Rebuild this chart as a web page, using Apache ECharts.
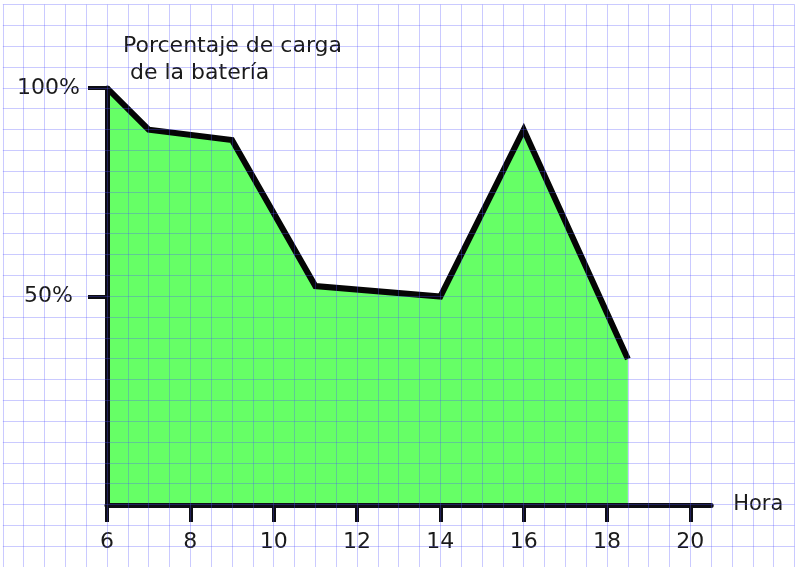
<!DOCTYPE html>
<html>
<head>
<meta charset="utf-8">
<script src="https://cdn.jsdelivr.net/npm/echarts@6/dist/echarts.min.js"></script>
<style>
html,body{margin:0;padding:0;background:#fff;}
#chart{width:804px;height:567px;}
</style>
</head>
<body>
<div id="chart"></div>
<script>
var hours = [6, 7, 9, 11, 14, 16, 18.5];
var charge = [100, 90, 87.5, 52.5, 50, 90, 35];
var xTicks = [6, 8, 10, 12, 14, 16, 18, 20];
var yTicks = [50, 100];
var titleText = 'Porcentaje de carga\n de la batería';
var xName = 'Hora';

var FONT = '"DejaVu Sans", Verdana, sans-serif';
var GRIDLINE = 'rgba(80,80,255,0.3)';
var chart = echarts.init(document.getElementById('chart'), null, {renderer: 'canvas'});
var points = hours.map(function (h, i) { return [h, charge[i]]; });

chart.setOption({
  animation: false,
  backgroundColor: '#ffffff',
  title: {
    text: titleText,
    left: 118,
    top: 28,
    textStyle: {fontFamily: FONT, fontSize: 22, fontWeight: 'normal', color: '#1a1a1a', lineHeight: 27}
  },
  grid: [
    {left: 107, right: 92.8, top: 88, bottom: 62, containLabel: false},
    {left: 2.83, right: 9.5, top: 4.6, bottom: 0, containLabel: false}
  ],
  xAxis: [
    {
      gridIndex: 0, type: 'value', min: 6, max: 20.5, interval: 2,
      z: 5,
      axisLine: {show: true, lineStyle: {color: '#0d0d14', width: 5}},
      axisTick: {show: true, length: 17, lineStyle: {color: '#0d0d14', width: 4},
        customValues: xTicks},
      axisLabel: {show: true, margin: 26, fontFamily: FONT, fontSize: 22, color: '#1a1a1a',
        customValues: xTicks,
        formatter: function (v) { return String(v); }},
      splitLine: {show: false},
      name: xName, nameLocation: 'end', nameGap: 22,
      nameTextStyle: {fontFamily: FONT, fontSize: 21, color: '#1a1a1a', align: 'left', verticalAlign: 'middle', padding: [0, 0, 16, 0]}
    },
    {
      gridIndex: 1, type: 'value', min: 3.5, max: 22.5, interval: 0.5,
      z: 10,
      axisLine: {show: false}, axisTick: {show: false}, axisLabel: {show: false},
      splitLine: {show: true, lineStyle: {color: GRIDLINE, width: 1}}
    }
  ],
  yAxis: [
    {
      gridIndex: 0, type: 'value', min: 0, max: 100, interval: 50,
      z: 5,
      axisLine: {show: true, lineStyle: {color: '#0d0d14', width: 5}},
      axisTick: {show: true, length: 19, lineStyle: {color: '#0d0d14', width: 4},
        customValues: yTicks},
      axisLabel: {show: true, margin: 27, fontFamily: FONT, fontSize: 22, color: '#1a1a1a',
        customValues: yTicks,
        formatter: function (v) { return v === 100 ? '{a|' + v + '%}' : '{b|' + v + '%}'; },
        rich: {
          a: {fontFamily: FONT, fontSize: 22, color: '#1a1a1a'},
          b: {fontFamily: FONT, fontSize: 22, color: '#1a1a1a', padding: [0, 7, 0, 0]}
        }},
      splitLine: {show: false}
    },
    {
      gridIndex: 1, type: 'value', min: -15, max: 120, interval: 5,
      z: 10,
      axisLine: {show: false}, axisTick: {show: false}, axisLabel: {show: false},
      splitLine: {show: true, lineStyle: {color: GRIDLINE, width: 1}}
    }
  ],
  series: [
    {
      type: 'line',
      xAxisIndex: 0, yAxisIndex: 0,
      data: points,
      symbol: 'none',
      z: 2,
      lineStyle: {color: '#050505', width: 6, join: 'miter'},
      areaStyle: {color: '#66ff66', opacity: 1}
    }
  ]
});
</script>
</body>
</html>
